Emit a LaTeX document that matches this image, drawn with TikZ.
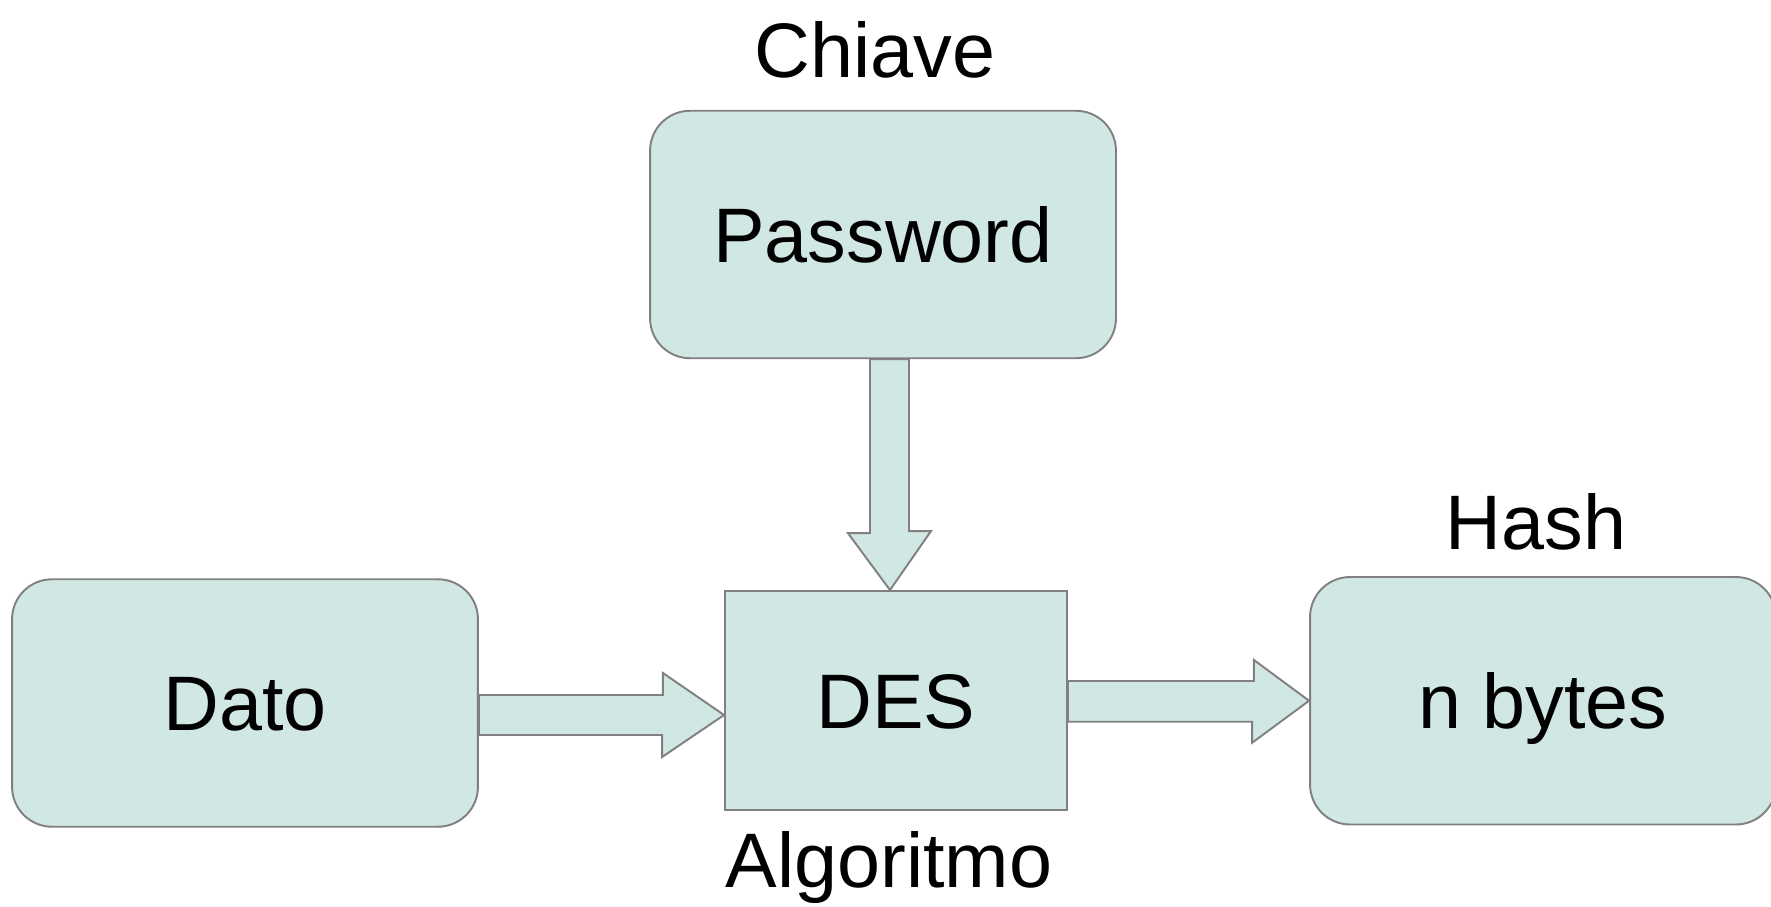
\documentclass[tikz,border=0pt]{standalone}
\usepackage{fontspec}
\setmainfont{Liberation Sans}
\usetikzlibrary{calc}
\definecolor{boxfill}{RGB}{208,231,228}
\definecolor{boxline}{RGB}{128,128,128}
\tikzset{
  box/.style={draw=boxline,fill=boxfill,line width=1.1pt,inner sep=0pt,
    text height=31.5pt,text depth=0pt,font=\fontsize{44}{50}\selectfont},
  roundbox/.style={box,rounded corners=0.8cm,minimum width=9.32cm,minimum height=4.95cm},
  fatarrow/.style={draw=boxline,fill=boxfill,line width=1.1pt,line join=miter},
  lbl/.style={anchor=base,inner sep=0pt,font=\fontsize{44}{50}\selectfont}
}

\begin{document}
\begin{tikzpicture}[x=0.02cm,y=-0.02cm]
  \useasboundingbox (0,0) rectangle (1771,906);
  % boxes
  \node[roundbox] (pwd) at (883,234.5) {Password};
  \node[roundbox] (dato) at (245,703) {Dato};
  \node[box,minimum width=6.84cm,minimum height=4.38cm] (des) at (896,700.5) {DES};
  \node[roundbox] (nbytes) at (1543,700.75) {n bytes};
  % labels
  \node[lbl] (chiave) at (875,77) {Chiave};
  \node[lbl] (hash) at (1536,549) {Hash};
  \node[lbl] (algo) at (889,887) {Algoritmo};
  % block arrows
  \draw[fatarrow] ($(pwd.south)+(-13,0)$) coordinate (s1) --++(0,174) --++(-22,0)
    -- ($(des.north)+(-6,0)$) --++(41,-59) --++(-22,0) |- (s1) -- cycle;
  \draw[fatarrow] ($(dato.east)+(0,-8)$) coordinate (s2) --++(184,0) --++(0,-22)
    -- ($(des.west)+(0,14.5)$) --++(-62,42) --++(0,-22) -| (s2) -- cycle;
  \draw[fatarrow] ($(des.east)+(0,-19.5)$) coordinate (s3) --++(186,0) --++(0,-21)
    -- (nbytes.west) --++(-57,42) --++(0,-21) -| (s3) -- cycle;
\end{tikzpicture}
\end{document}
